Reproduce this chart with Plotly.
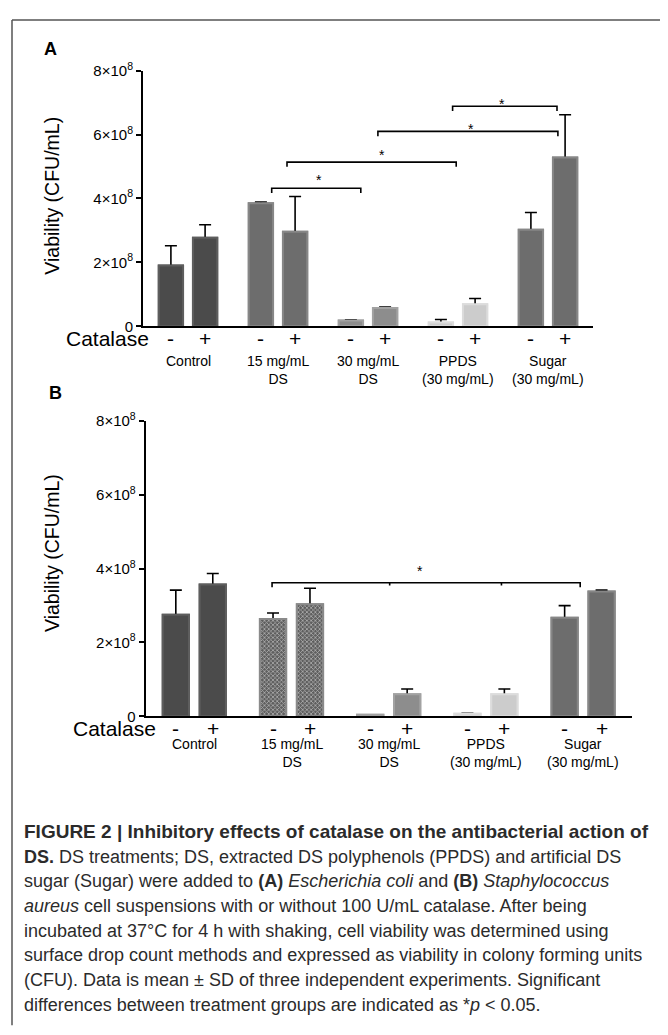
import plotly.graph_objects as go

W, H = 668, 1035
# the page adds an 8px body margin; positions below are given in screen pixels
OX, OY = 8, 8

# ---------------- data ----------------
groups = ["Control", "15 mg/mL<br>DS", "30 mg/mL<br>DS", "PPDS<br>(30 mg/mL)", "Sugar<br>(30 mg/mL)"]
catalase_labels = ["-", "+"]

a_minus = [1.90e8, 3.85e8, 0.18e8, 0.12e8, 3.02e8]
a_minus_sd = [0.62e8, 0.04e8, 0.02e8, 0.09e8, 0.54e8]
a_plus = [2.77e8, 2.96e8, 0.57e8, 0.69e8, 5.28e8]
a_plus_sd = [0.41e8, 1.10e8, 0.03e8, 0.18e8, 1.34e8]

b_minus = [2.75e8, 2.64e8, 0.04e8, 0.07e8, 2.67e8]
b_minus_sd = [0.67e8, 0.16e8, 0.0, 0.01e8, 0.33e8]
b_plus = [3.57e8, 3.04e8, 0.60e8, 0.60e8, 3.38e8]
b_plus_sd = [0.30e8, 0.43e8, 0.14e8, 0.14e8, 0.04e8]

y_tickvals = [0, 2e8, 4e8, 6e8, 8e8]
y_ticktext = ["0", "2×10<sup>8</sup>", "4×10<sup>8</sup>", "6×10<sup>8</sup>", "8×10<sup>8</sup>"]

# significance brackets: (x_start, x_end, height) in axis units, star position (x, y)
brackets_a = [(0.93, 1.92, 4.32e8), (1.10, 2.98, 5.14e8), (2.11, 4.11, 6.10e8), (2.94, 4.10, 6.89e8)]
stars_a = [(1.46, 4.71e8), (2.15, 5.49e8), (3.14, 6.31e8), (3.49, 7.08e8)]
bracket_b_x = [0.80, 2.01, 3.16, 3.97]
bracket_b_y = 3.62e8
star_b = (2.32, 4.06e8)

# ---------------- styles ----------------
fill_a = ["#4b4b4b", "#6d6d6d", "#8d8d8d", "#cccccc", "#6d6d6d"]
edge_a = ["#5e5e5e", "#878787", "#a2a2a2", "#dcdcdc", "#878787"]
fill_b = ["#4b4b4b", "#5e5e5e", "#8d8d8d", "#cccccc", "#6d6d6d"]
edge_b = ["#5e5e5e", "#8a8a8a", "#a2a2a2", "#dcdcdc", "#878787"]
pattern_b = ["", "x", "", "", ""]

OFF = 0.19
BW = 0.27
FONT = "Liberation Sans, Arial, Helvetica, sans-serif"


def px_x(p):
    return (p - OX) / W


def px_y(p):
    return 1 - (p - OY) / H


def positions():
    xs = []
    for i in range(len(groups)):
        xs += [i - OFF, i + OFF]
    return xs


def interleave(a, b):
    out = []
    for u, v in zip(a, b):
        out += [u, v]
    return out


fig = go.Figure()


def add_panel(xa, ya, vm, sm, vp, sp, fills, edges, patterns=None):
    xs = positions()
    vals = interleave(vm, vp)
    sds = interleave(sm, sp)
    cols = interleave(fills, fills)
    lcols = interleave(edges, edges)
    marker = dict(color=cols, line=dict(color=lcols, width=2))
    if patterns:
        pats = interleave(patterns, patterns)
        marker["pattern"] = dict(shape=pats, fgcolor="#2e2e2e", bgcolor="#747474",
                                 size=3, solidity=0.45, fillmode="overlay")
    # bars carrying the error bars (stem reaches the baseline and is hidden by the copy on top)
    fig.add_trace(go.Bar(x=xs, y=vals, width=BW, marker=marker, xaxis=xa, yaxis=ya,
                         error_y=dict(type="data", symmetric=False, array=sds, arrayminus=vals,
                                      color="black", thickness=1.6, width=6),
                         showlegend=False, hoverinfo="skip"))
    fig.add_trace(go.Bar(x=xs, y=vals, width=BW, marker=marker, xaxis=xa, yaxis=ya,
                         showlegend=False))


add_panel("x", "y", a_minus, a_minus_sd, a_plus, a_plus_sd, fill_a, edge_a)
add_panel("x2", "y2", b_minus, b_minus_sd, b_plus, b_plus_sd, fill_b, edge_b, pattern_b)

xaxis_common = dict(range=[-0.5, 4.5], showline=True, linecolor="black", linewidth=2,
                    showgrid=False, zeroline=False, ticks="", showticklabels=False, fixedrange=True)
yaxis_common = dict(range=[0, 8e8], showline=True, linecolor="black", linewidth=2,
                    showgrid=False, zeroline=False, ticks="outside", ticklen=5, tickwidth=2,
                    tickcolor="black", tickvals=y_tickvals, ticktext=y_ticktext,
                    tickfont=dict(family=FONT, size=15, color="black"), fixedrange=True)

fig.update_layout(
    width=W, height=H, margin=dict(l=0, r=0, t=0, b=0),
    paper_bgcolor="white", plot_bgcolor="white", barmode="overlay", showlegend=False,
    xaxis=dict(domain=[px_x(143), px_x(593)], anchor="y", **xaxis_common),
    yaxis=dict(domain=[px_y(321), px_y(60.7)], anchor="x", **yaxis_common),
    xaxis2=dict(domain=[px_x(145.7), px_x(631.7)], anchor="y2", **xaxis_common),
    yaxis2=dict(domain=[px_y(718.3), px_y(417.7)], anchor="x2", **yaxis_common),
)

shapes = []
annotations = []

star_font = dict(family=FONT, size=14, color="black")

# brackets panel A
tick_a = 0.15e8
for x0, x1, yv in brackets_a:
    shapes.append(dict(type="path", xref="x", yref="y",
                       path=f"M {x0},{yv - tick_a} L {x0},{yv} L {x1},{yv} L {x1},{yv - tick_a}",
                       line=dict(color="black", width=1.6)))
for sx, sy in stars_a:
    annotations.append(dict(x=sx, y=sy, xref="x", yref="y", text="*", showarrow=False,
                            xanchor="center", yanchor="middle", yshift=-4, font=star_font))

# bracket panel B
tick_b = 0.12e8
pb = (f"M {bracket_b_x[0]},{bracket_b_y - tick_b} L {bracket_b_x[0]},{bracket_b_y} "
      f"L {bracket_b_x[-1]},{bracket_b_y} L {bracket_b_x[-1]},{bracket_b_y - tick_b}")
for xm in bracket_b_x[1:-1]:
    pb += f" M {xm},{bracket_b_y} L {xm},{bracket_b_y - tick_b * 0.6}"
shapes.append(dict(type="path", xref="x2", yref="y2", path=pb, line=dict(color="black", width=1.6)))
annotations.append(dict(x=star_b[0], y=star_b[1], xref="x2", yref="y2", text="*", showarrow=False,
                        xanchor="center", yanchor="middle", yshift=-4, font=star_font))

# catalase -/+ labels under each bar
for xa, ypx in (("x", 333), ("x2", 731)):
    for xv, lab in zip(positions(), catalase_labels * len(groups)):
        annotations.append(dict(x=xv, y=px_y(ypx), xref=xa, yref="paper", text=lab, showarrow=False,
                                xanchor="center", yanchor="middle",
                                font=dict(family=FONT, size=21, color="black")))

# group labels (first line centred near y=355 / 745)
for i, g in enumerate(groups):
    annotations.append(dict(x=i, y=px_y(346), xref="x", yref="paper", text=g, showarrow=False,
                            xanchor="center", yanchor="top",
                            font=dict(family=FONT, size=14, color="black")))
    annotations.append(dict(x=i, y=px_y(736), xref="x2", yref="paper", text=g, showarrow=False,
                            xanchor="center", yanchor="top",
                            font=dict(family=FONT, size=14, color="black")))

# Catalase labels
annotations.append(dict(x=px_x(151), y=px_y(333), xref="paper", yref="paper", text="Catalase",
                        showarrow=False, xanchor="right", yanchor="middle",
                        font=dict(family=FONT, size=21, color="black")))
annotations.append(dict(x=px_x(158), y=px_y(731), xref="paper", yref="paper", text="Catalase",
                        showarrow=False, xanchor="right", yanchor="middle",
                        font=dict(family=FONT, size=21, color="black")))

# y titles
for yc in (188, 552):
    annotations.append(dict(x=px_x(52), y=px_y(yc), xref="paper", yref="paper",
                            text="Viability (CFU/mL)", textangle=-90, showarrow=False,
                            xanchor="center", yanchor="middle",
                            font=dict(family=FONT, size=19.5, color="black")))

# panel letters
annotations.append(dict(x=px_x(50), y=px_y(38.5), xref="paper", yref="paper", text="<b>A</b>",
                        showarrow=False, xanchor="center", yanchor="middle",
                        font=dict(family=FONT, size=18, color="black")))
annotations.append(dict(x=px_x(55), y=px_y(389), xref="paper", yref="paper", text="<b>B</b>",
                        showarrow=False, xanchor="center", yanchor="middle",
                        font=dict(family=FONT, size=18, color="black")))

# caption
caption = [
    "<b>FIGURE 2 | Inhibitory effects of catalase on the antibacterial action of</b>",
    "<b>DS.</b> DS treatments; DS, extracted DS polyphenols (PPDS) and artificial DS",
    "sugar (Sugar) were added to <b>(A)</b> <i>Escherichia coli</i> and <b>(B)</b> <i>Staphylococcus</i>",
    "<i>aureus</i> cell suspensions with or without 100 U/mL catalase. After being",
    "incubated at 37°C for 4 h with shaking, cell viability was determined using",
    "surface drop count methods and expressed as viability in colony forming units",
    "(CFU). Data is mean ± SD of three independent experiments. Significant",
    "differences between treatment groups are indicated as *<i>p</i> &lt; 0.05.",
]
for k, line in enumerate(caption):
    annotations.append(dict(x=px_x(22), y=px_y(836 + 25.2 * k), xref="paper", yref="paper",
                            text=line, showarrow=False, xanchor="left", yanchor="middle",
                            font=dict(family=FONT, size=19 if k == 0 else 18, color="#2b2b2b")))

# page frame (top and left rules)
shapes.append(dict(type="line", xref="paper", yref="paper", x0=px_x(12), x1=1, y0=px_y(9), y1=px_y(9),
                   line=dict(color="#555555", width=1.5)))
shapes.append(dict(type="line", xref="paper", yref="paper", x0=px_x(12), x1=px_x(12), y0=px_y(9),
                   y1=px_y(1033), line=dict(color="#555555", width=1.5)))

fig.update_layout(shapes=shapes, annotations=annotations)
fig.write_html("out.html")
